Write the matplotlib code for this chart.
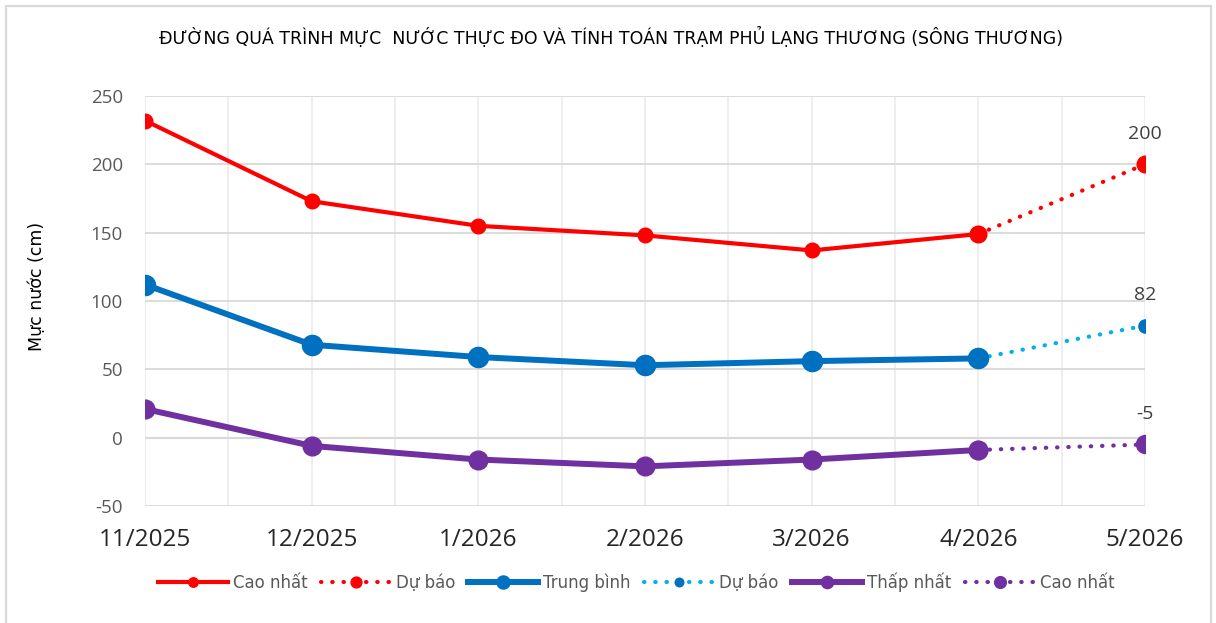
import matplotlib
matplotlib.use("Agg")
import matplotlib.pyplot as plt
from matplotlib.patches import Rectangle

plt.rcParams["axes.unicode_minus"] = False

# data
months = ["11/2025", "12/2025", "1/2026", "2/2026", "3/2026", "4/2026", "5/2026"]
cao_nhat = [232, 173, 155, 148, 137, 149]
trung_binh = [112, 68, 59, 53, 56, 58]
thap_nhat = [21, -6, -16, -21, -16, -9]
du_bao_cao = [149, 200]
du_bao_tb = [58, 82]
du_bao_thap = [-9, -5]

RED = "#FF0000"
BLUE = "#0070C0"
LBLUE = "#00B0F0"
PURPLE = "#7030A0"
TXT = "#595959"

FONT = ["Open Sans", "DejaVu Sans"]
NARROW = ["DejaVu Sans"]
DOTS = (0, (0.1, 2.6))

fig = plt.figure(figsize=(12.16, 6.23), dpi=100)
fig.patches.append(Rectangle((6 / 1216, -0.01), 1205 / 1216, 1 - 6 / 623 + 0.01,
                             transform=fig.transFigure, fill=False,
                             edgecolor="#D9D9D9", linewidth=1.6))

ax = fig.add_axes([145 / 1216, 1 - 506 / 623, 1000 / 1216, 410 / 623])

xs = list(range(len(cao_nhat)))
xf = [len(cao_nhat) - 1, len(cao_nhat)]

l1, = ax.plot(xs, cao_nhat, color=RED, lw=3, marker="o", ms=10.5, label="Cao nhất", zorder=4)
l2, = ax.plot(xf, du_bao_cao, color=RED, lw=3, ls=DOTS, dash_capstyle="round",
              marker="o", ms=12, label="Dự báo", zorder=4)
l3, = ax.plot(xs, trung_binh, color=BLUE, lw=4.3, marker="o", ms=14.5, label="Trung bình", zorder=4)
l4, = ax.plot(xf, du_bao_tb, color=LBLUE, lw=3, ls=DOTS, dash_capstyle="round",
              marker="o", ms=9.5, mfc=BLUE, mec=BLUE, markevery=[1], label="Dự báo", zorder=3)
l5, = ax.plot(xs, thap_nhat, color=PURPLE, lw=4.3, marker="o", ms=13.5, label="Thấp nhất", zorder=4)
l6, = ax.plot(xf, du_bao_thap, color=PURPLE, lw=3, ls=DOTS, dash_capstyle="round",
              marker="o", ms=13, label="Cao nhất", zorder=3)

# end labels
for val in (du_bao_cao[-1], du_bao_tb[-1], du_bao_thap[-1]):
    ax.annotate(f"{val}", (xf[-1], val), xytext=(0, 22), textcoords="offset points",
                ha="center", va="center", fontsize=14, color="#404040", family=FONT)

ax.set_xlim(0, len(months) - 1)
ax.set_ylim(-50, 250)
ax.set_yticks(range(-50, 251, 50))
ax.set_xticks(range(len(months)))
ax.set_xticklabels(months)
ax.set_xticks([i + 0.5 for i in range(len(months) - 1)], minor=True)

ax.grid(axis="y", color="#D9D9D9", lw=1.3, zorder=0)
ax.grid(axis="x", which="both", color="#EBEBEB", lw=1.2, zorder=0)
ax.axhline(0, color="#D0D0D0", lw=1.5, zorder=1)
for sp in ax.spines.values():
    sp.set_visible(False)
ax.tick_params(axis="both", which="both", length=0)
ax.tick_params(axis="y", labelsize=13.5, labelcolor=TXT, pad=16)
ax.tick_params(axis="x", labelsize=17.5, labelcolor="#262626", pad=16)
for lab in ax.get_xticklabels() + ax.get_yticklabels():
    lab.set_family(FONT)

fig.text(37 / 1216, 1 - 286 / 623, "Mực nước (cm)", rotation=90, ha="center", va="center",
         fontsize=12.5, color="black", family=NARROW)
fig.text(611 / 1216, 1 - 37 / 623,
         "ĐƯỜNG QUÁ TRÌNH MỰC  NƯỚC THỰC ĐO VÀ TÍNH TOÁN TRẠM PHỦ LẠNG THƯƠNG (SÔNG THƯƠNG)",
         ha="center", va="center", fontsize=12.5, color="black", family=NARROW)

leg = fig.legend(handles=[l1, l2, l3, l4, l5, l6], loc="center",
                 bbox_to_anchor=(636 / 1216, 1 - 582 / 623), ncol=6, frameon=False,
                 handlelength=4.2, handletextpad=0.3, columnspacing=0.8, numpoints=1,
                 markerscale=0.65, prop={"family": NARROW, "size": 12})
for t in leg.get_texts():
    t.set_color(TXT)

fig.savefig("out.png", dpi=100)
